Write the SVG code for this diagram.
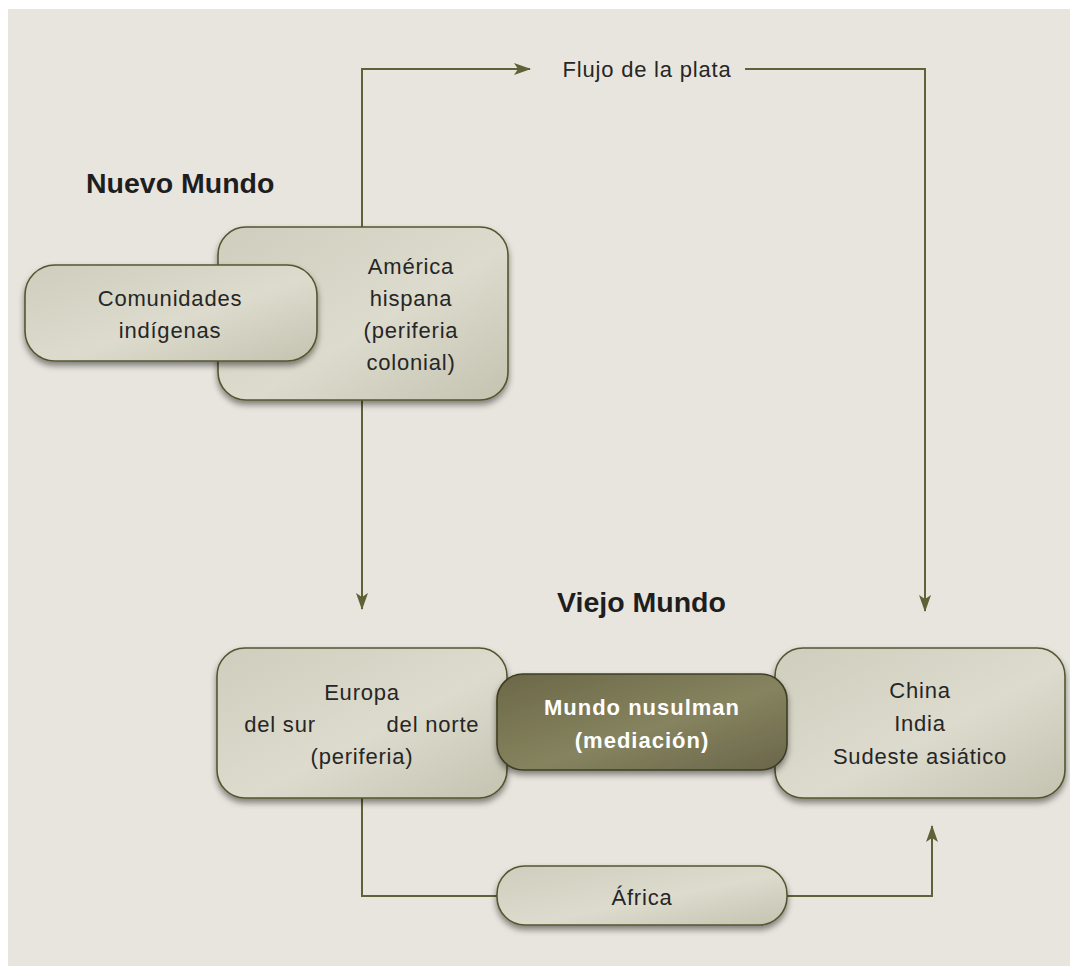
<svg xmlns="http://www.w3.org/2000/svg" width="1070" height="966" viewBox="0 0 1070 966">
<style>
.t{font-family:"Liberation Sans",Arial,sans-serif;font-size:22px;fill:#262626;text-anchor:middle;letter-spacing:0.8px}
.h{font-family:"Liberation Sans",Arial,sans-serif;font-size:28.5px;font-weight:bold;fill:#1e1e1e}
.w{font-family:"Liberation Sans",Arial,sans-serif;font-size:22px;font-weight:bold;fill:#ffffff;text-anchor:middle;letter-spacing:1px}
.box{fill:url(#g1);stroke:#55552f;stroke-width:1.6;filter:url(#sh)}
.dark{fill:url(#g2);stroke:#3f3e24;stroke-width:1.6;filter:url(#sh)}
.ln{fill:none;stroke:#5f6136;stroke-width:2}
</style>
<defs>
<linearGradient id="g1" x1="0" y1="0" x2="1" y2="1">
<stop offset="0" stop-color="#cfcdbd"/>
<stop offset="0.55" stop-color="#dddbcd"/>
<stop offset="1" stop-color="#c4c2b0"/>
</linearGradient>
<linearGradient id="g2" x1="0" y1="0" x2="1" y2="1">
<stop offset="0" stop-color="#6b6848"/>
<stop offset="0.55" stop-color="#86835f"/>
<stop offset="1" stop-color="#69664a"/>
</linearGradient>
<filter id="sh" x="-10%" y="-10%" width="120%" height="130%">
<feDropShadow dx="0" dy="4" stdDeviation="3" flood-color="#000" flood-opacity="0.45"/>
</filter>
<marker id="ar" viewBox="0 0 17 12" refX="16" refY="6" markerWidth="17" markerHeight="12" markerUnits="userSpaceOnUse" orient="auto">
<path d="M0,0 L17,6 L0,12 L4,6 Z" fill="#5f6136"/>
</marker>
</defs>
<rect x="0" y="0" width="1070" height="966" fill="#ffffff"/>
<rect x="8" y="9" width="1062" height="957" fill="#e8e5de"/>
<g id="connectors">
<path class="ln" d="M362,227 V69 H530" marker-end="url(#ar)"/>
<path class="ln" d="M745,69 H925 V611" marker-end="url(#ar)"/>
<path class="ln" d="M362,400 V609" marker-end="url(#ar)"/>
<path class="ln" d="M362,798 V896 H497"/>
<path class="ln" d="M787,896 H932 V826" marker-end="url(#ar)"/>
<text class="t" x="647" y="77">Flujo de la plata</text>
</g>
<text class="h" x="86" y="193">Nuevo Mundo</text>
<text class="h" x="557" y="612">Viejo Mundo</text>
<g id="america">
<rect class="box" x="218" y="227" width="290" height="173" rx="28"/>
<text class="t" x="411" y="274">América</text>
<text class="t" x="411" y="306">hispana</text>
<text class="t" x="411" y="338">(periferia</text>
<text class="t" x="411" y="370">colonial)</text>
</g>
<g id="comunidades">
<rect class="box" x="25" y="265" width="292" height="96" rx="30"/>
<text class="t" x="170" y="306">Comunidades</text>
<text class="t" x="170" y="338">indígenas</text>
</g>
<g id="europa">
<rect class="box" x="217" y="648" width="290" height="150" rx="28"/>
<text class="t" x="362" y="700">Europa</text>
<text class="t" x="280" y="732">del sur</text>
<text class="t" x="433" y="732">del norte</text>
<text class="t" x="362" y="764">(periferia)</text>
</g>
<g id="china">
<rect class="box" x="775" y="648" width="290" height="150" rx="28"/>
<text class="t" x="920" y="698">China</text>
<text class="t" x="920" y="731">India</text>
<text class="t" x="920" y="764">Sudeste asiático</text>
</g>
<g id="mundo">
<rect class="dark" x="497" y="674" width="290" height="96" rx="26"/>
<text class="w" x="642" y="715">Mundo nusulman</text>
<text class="w" x="642" y="748">(mediación)</text>
</g>
<g id="africa">
<rect class="box" x="497" y="866" width="290" height="59" rx="28"/>
<text class="t" x="642" y="905">África</text>
</g>
</svg>
